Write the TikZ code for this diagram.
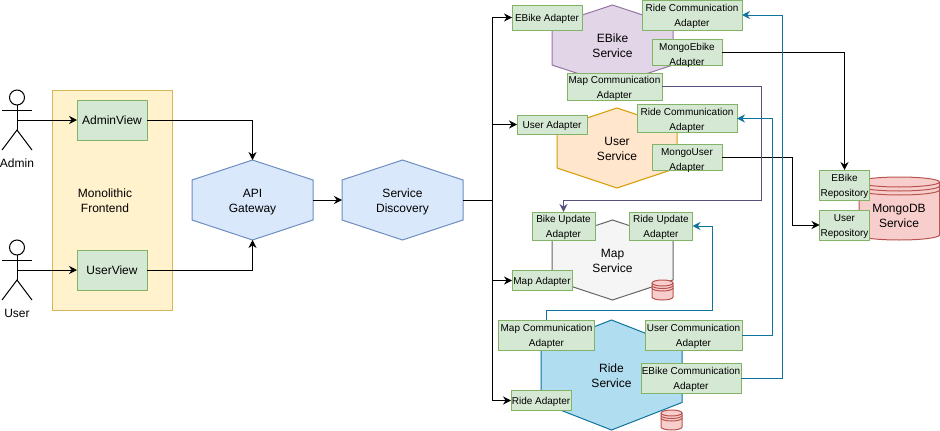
\documentclass[tikz,border=0pt]{standalone}
\usepackage{fontspec}
\setmainfont{Liberation Sans}
\usepackage{tikz}
\usetikzlibrary{arrows.meta, positioning}
\definecolor{greenfill}{HTML}{D5E8D4}
\definecolor{greenline}{HTML}{82B366}
\definecolor{yellowfill}{HTML}{FFF2CC}
\definecolor{yellowline}{HTML}{D6B656}
\definecolor{bluefill}{HTML}{DAE8FC}
\definecolor{blueline}{HTML}{6C8EBF}
\definecolor{purplefill}{HTML}{E1D5E7}
\definecolor{purpleline}{HTML}{9673A6}
\definecolor{orangefill}{HTML}{FFE6CC}
\definecolor{orangeline}{HTML}{D79B00}
\definecolor{grayfill}{HTML}{F5F5F5}
\definecolor{grayline}{HTML}{666666}
\definecolor{ridefill}{HTML}{B1DDF0}
\definecolor{rideline}{HTML}{10739E}
\definecolor{dbfill}{HTML}{F8CECC}
\definecolor{dbline}{HTML}{B85450}
\definecolor{mapline}{HTML}{56517E}
\tikzstyle{mainfont}=[font=\fontsize{12}{15}\selectfont]
\tikzstyle{smallfont}=[font=\fontsize{10}{15}\selectfont]
\tikzstyle{hexlabel}=[mainfont, align=center, inner sep=0pt, outer sep=0pt, text depth=0pt, text height=25pt]
\tikzstyle{viewbox}=[draw=greenline, fill=greenfill, mainfont, inner sep=0pt, outer sep=0pt]
\tikzstyle{adapter}=[draw=greenline, fill=greenfill, smallfont, align=center, inner sep=0pt, outer sep=0pt, text depth=0pt]
\tikzstyle{twolines}=[text height=23.5pt]
\tikzstyle{lowtext}=[text height=25.5pt]
\tikzstyle{frontend}=[draw=yellowline, fill=yellowfill, mainfont, align=center, inner sep=0pt, outer sep=0pt]
\tikzstyle{database}=[draw=dbline, fill=dbfill]
\tikzstyle{conn}=[-{Stealth[length=8pt,width=8pt]}, black]
\tikzstyle{plainconn}=[black]
\tikzstyle{mapconn}=[-{Stealth[length=8pt,width=8pt]}, mapline]
\tikzstyle{rideconn}=[-{Stealth[length=8pt,width=8pt]}, rideline]
% name, center x, center y, width, height, colours, text
\newcommand{\drawHexagon}[7]{
    \draw[#6] (#2,{#3-#5/2}) -- ({#2+#4/2},{#3-#5/4}) -- ({#2+#4/2},{#3+#5/4})
        -- (#2,{#3+#5/2}) -- ({#2-#4/2},{#3+#5/4}) -- ({#2-#4/2},{#3-#5/4}) -- cycle;
    \node[hexlabel, minimum width=#4pt, minimum height=#5pt] (#1) at (#2,#3) {#7};
}
% name, center x, top y, label
\newcommand{\drawActor}[4]{
    \draw[black] (#2,{#3+7.5}) circle (7.5);
    \draw[black] (#2,{#3+15}) -- (#2,{#3+40});
    \draw[black] ({#2-15},{#3+20}) -- ({#2+15},{#3+20});
    \draw[black] ({#2-15},{#3+60}) -- (#2,{#3+40}) -- ({#2+15},{#3+60});
    \coordinate (#1) at (#2,{#3+30});
    \node[mainfont] (#1label) at (#2,{#3+73}) {#4};
}
% left x, right x, top y, bottom y, half height of the top, gap of the rings
\newcommand{\drawDatastore}[6]{
    \draw[database] (#1,{#3+#5}) arc[start angle=180, end angle=360, x radius={(#2-#1)/2}, y radius=#5]
        -- (#2,{#4-#5}) arc[start angle=0, end angle=180, x radius={(#2-#1)/2}, y radius=#5] -- cycle;
    \draw[dbline] (#1,{#3+#5}) arc[start angle=180, end angle=0, x radius={(#2-#1)/2}, y radius=#5];
    \draw[dbline] (#1,{#3+#5+#6}) arc[start angle=180, end angle=0, x radius={(#2-#1)/2}, y radius=#5];
    \draw[dbline] (#1,{#3+#5+2*#6}) arc[start angle=180, end angle=0, x radius={(#2-#1)/2}, y radius=#5];
}

\begin{document}
\begin{tikzpicture}[x=1pt, y=-1pt, line width=1pt]
    \useasboundingbox (0,0) rectangle (940,431);

    % Actors
    \drawActor{admin}{17}{90}{Admin}
    \drawActor{user}{17}{240}{User}

    % Frontend
    \node[frontend, minimum width=120pt, minimum height=220pt] (frontend) at (112,200) {};
    \node[hexlabel] (frontendlabel) at (105,200) {Monolithic\\Frontend};
    \node[viewbox, minimum width=70pt, minimum height=40pt] (adminview) at (112,120) {AdminView};
    \node[viewbox, minimum width=70pt, minimum height=40pt] (userview) at (112,270) {UserView};

    % Gateway and discovery
    \drawHexagon{api}{252.5}{200}{121}{80}{draw=blueline, fill=bluefill}{API\\Gateway}
    \drawHexagon{discovery}{402.5}{200}{121}{80}{draw=blueline, fill=bluefill}{Service\\Discovery}
    \coordinate (bus) at (492,200);

    % Services
    \drawHexagon{ebike}{612.5}{45}{121}{80}{draw=purpleline, fill=purplefill}{EBike\\Service}
    \drawHexagon{userservice}{617}{148}{120}{80}{draw=orangeline, fill=orangefill}{User\\Service}
    \drawHexagon{map}{612.5}{260}{121}{80}{draw=grayline, fill=grayfill}{Map\\Service}
    \drawHexagon{ride}{611.5}{375}{141}{110}{draw=rideline, fill=ridefill}{Ride\\Service}

    % Small stores
    \drawDatastore{652}{673}{280}{300}{3}{2.5}
    \drawDatastore{661}{682}{410}{430}{3}{2.5}

    % MongoDB
    \drawDatastore{859}{939.5}{177}{240}{5}{4}
    \node[hexlabel] (mongolabel) at (899,215) {MongoDB\\Service};

    % EBike adapters
    \node[adapter, minimum width=70pt, minimum height=25pt] (ebikeadapter) at (547,17.5) {EBike Adapter};
    \node[adapter, twolines, minimum width=100pt, minimum height=30pt] (ebikeride) at (692,15) {Ride Communication\\Adapter};
    \node[adapter, lowtext, minimum width=70pt, minimum height=25pt] (mongoebike) at (687,52.5) {MongoEbike\\Adapter};
    \node[adapter, twolines, minimum width=95pt, minimum height=27pt] (ebikemap) at (614.5,86.5) {Map Communication\\Adapter};

    % User adapters
    \node[adapter, minimum width=70pt, minimum height=19pt] (useradapter) at (552,124.5) {User Adapter};
    \node[adapter, twolines, minimum width=100pt, minimum height=28pt] (userride) at (687,118.5) {Ride Communication\\Adapter};
    \node[adapter, lowtext, minimum width=70pt, minimum height=25pt] (mongouser) at (687,157.5) {MongoUser\\Adapter};

    % Map adapters
    \node[adapter, twolines, minimum width=63pt, minimum height=28pt] (bikeupdate) at (563.5,226) {Bike Update\\Adapter};
    \node[adapter, twolines, minimum width=63pt, minimum height=28pt] (rideupdate) at (661,226) {Ride Update\\Adapter};
    \node[adapter, minimum width=60pt, minimum height=20pt] (mapadapter) at (542,280.5) {Map Adapter};

    % Ride adapters
    \node[adapter, twolines, minimum width=96pt, minimum height=30pt] (ridemap) at (546.5,335) {Map Communication\\Adapter};
    \node[adapter, twolines, minimum width=97pt, minimum height=30pt] (rideuser) at (693.5,335) {User Communication\\Adapter};
    \node[adapter, twolines, minimum width=100pt, minimum height=30pt] (rideebike) at (691,378) {EBike Communication\\Adapter};
    \node[adapter, minimum width=60pt, minimum height=20pt] (rideadapter) at (541,400.5) {Ride Adapter};

    % Repositories
    \node[adapter, twolines, minimum width=50pt, minimum height=30pt] (ebikerepo) at (844.5,185) {EBike\\Repository};
    \node[adapter, twolines, minimum width=50pt, minimum height=30pt] (userrepo) at (844.5,225) {User\\Repository};

    % Frontend connectors
    \draw[conn] (admin) -- (adminview.west);
    \draw[conn] (user) -- (userview.west);
    \draw[conn] (adminview.east) -| (api.north);
    \draw[conn] (userview.east) -| (api.south);
    \draw[conn] (api.east) -- (discovery.west);
    \draw[plainconn] (discovery.east) -- (bus);

    % Discovery to services
    \draw[conn] (bus) |- (ebikeadapter.west);
    \draw[conn] (bus) |- (useradapter.west);
    \draw[conn] (bus) |- (mapadapter.west);
    \draw[conn] (bus) |- (rideadapter.west);

    % Adapters to repositories
    \draw[conn] (mongoebike.east) -| (ebikerepo.north);
    \draw[conn] (mongouser.east) -- ++(70,0) |- (userrepo.west);

    % Communication between services
    \draw[mapconn] (ebikemap.east) -- ++(99,0) -- ++(0,114) -| (bikeupdate.north);
    \draw[rideconn] (ridemap.north) -- ++(0,-10) -- ++(165.5,0) |- (rideupdate.east);
    \draw[rideconn] (rideuser.east) -- ++(30,0) |- (userride.east);
    \draw[rideconn] (rideebike.east) -- ++(41,0) |- (ebikeride.east);
\end{tikzpicture}
\end{document}
